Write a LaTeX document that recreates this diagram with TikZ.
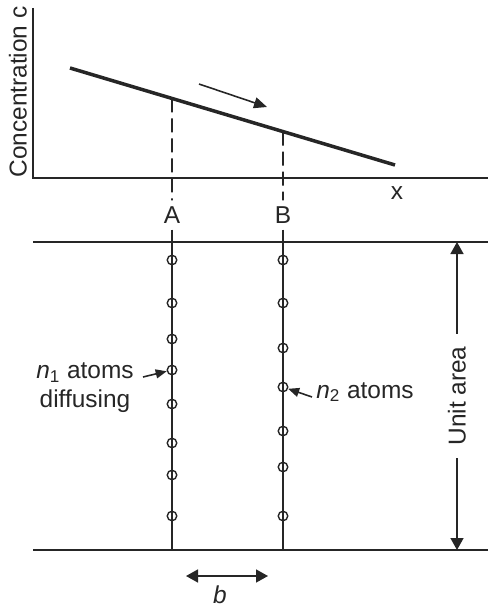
\documentclass[tikz,border=0pt]{standalone}
\usepackage{fontspec}
\setmainfont{Liberation Sans}
\usetikzlibrary{arrows.meta, calc, positioning}

\begin{document}
\begin{tikzpicture}[
    font=\fontsize{13.9}{16.5}\selectfont,
    every path/.style={black!85},
    thinline/.style={line width=0.9pt},
    atom/.style={circle, draw, line width=0.8pt, minimum size=0.19cm, inner sep=0pt},
    bigtip/.style={line width=0.9pt, {Triangle[length=0.24cm,width=0.26cm]}-{Triangle[length=0.24cm,width=0.26cm]}},
    smalltip/.style={line width=0.9pt, -{Triangle[length=0.22cm,width=0.18cm]}}
]
    \useasboundingbox (-0.66,-8.56) rectangle (9.24,3.56);

    % Concentration profile
    \draw[thinline] (0,3.4) -- (0,0) -- (9.1,0);
    \node[rotate=90] (cy) at (-0.3,1.72) {Concentration c};
    \node (cx) at (7.28,-0.3) {x};
    \coordinate (hi) at (0.74,2.2);
    \coordinate (lo) at (7.24,0.26);
    \draw[line width=2pt] (hi) -- (lo);
    \coordinate (flow1) at (3.32,1.88);
    \coordinate (flow2) at (4.68,1.42);
    \draw[thinline, -{Triangle[length=0.26cm,width=0.22cm]}] (flow1) -- (flow2);

    \coordinate (cA) at ($(hi)!0.3138!(lo)$);
    \coordinate (cB) at ($(hi)!0.6554!(lo)$);
    \node (A) at (2.78,-0.74) {A};
    \node (B) at (5.0,-0.74) {B};
    \draw[thinline, dash pattern=on 0.28cm off 0.12cm] (cA) -- (A);
    \draw[thinline, dash pattern=on 0.28cm off 0.12cm] (cB) -- (B);

    % Planes A and B
    \coordinate (tl) at (0,-1.28);
    \coordinate (tr) at (9.1,-1.28);
    \coordinate (bl) at (0,-7.44);
    \coordinate (br) at (9.1,-7.44);
    \draw[thinline] (tl) -- (tr);
    \draw[thinline] (bl) -- (br);
    \draw[thinline] (A) -- (A |- bl);
    \draw[thinline] (B) -- (B |- bl);

    \foreach \y [count=\i] in {-1.64,-2.5,-3.22,-3.84,-4.52,-5.3,-5.94,-6.76}
        \node[atom] (a\i) at (2.78,\y) {};
    \foreach \y [count=\i] in {-1.64,-2.5,-3.4,-4.18,-5.06,-5.78,-6.76}
        \node[atom] (b\i) at (5.0,\y) {};

    % Labels
    \node[align=center] (n1) at (1.04,-4.2) {\textit{n}\textsubscript{1} atoms\\diffusing};
    \coordinate (n1tail) at (2.2,-3.98);
    \draw[smalltip] (n1tail) -- (a4);
    \node (n2) at (6.64,-4.28) {\textit{n}\textsubscript{2} atoms};
    \coordinate (n2tail) at (5.58,-4.38);
    \draw[smalltip] (n2tail) -- (b4);

    % Unit area
    \coordinate (ut) at (8.48,-1.28);
    \coordinate (ub) at (8.48,-7.44);
    \draw[bigtip] (ut) -- node[fill=white, rotate=90, inner xsep=0.24cm] (ua) {Unit area} (ub);

    % Spacing b
    \coordinate (bL) at (3.06,-7.96);
    \coordinate (bR) at (4.7,-7.96);
    \draw[bigtip] (bL) -- (bR);
    \node[inner sep=1pt] (blabel) at (3.74,-8.33) {\textit{b}};
\end{tikzpicture}
\end{document}
